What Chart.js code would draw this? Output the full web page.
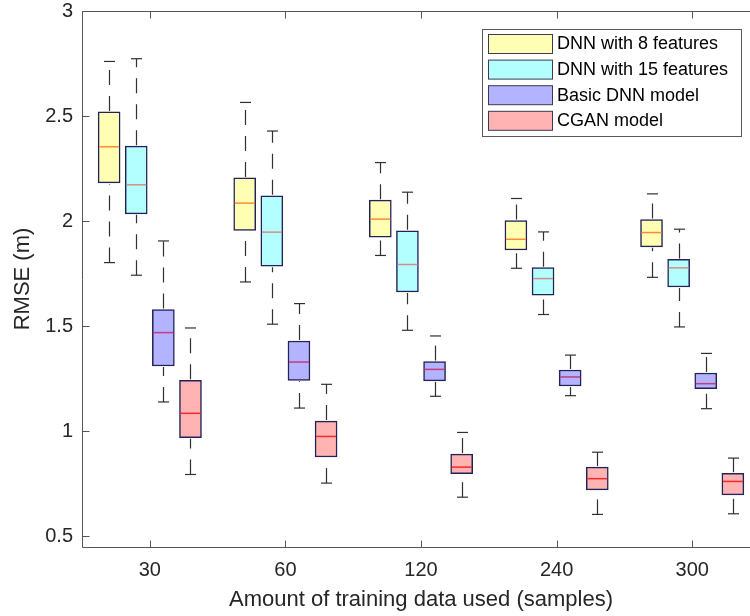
<!DOCTYPE html>
<html><head><meta charset="utf-8">
<script src="https://cdn.jsdelivr.net/npm/chart.js@4/dist/chart.umd.min.js"></script>
<style>
html,body{margin:0;padding:0;overflow:hidden;background:#fff;width:750px;height:616px}
#wrap{position:absolute;left:0;top:0;width:780px;height:616px}
</style>
</head><body><div id="wrap"><canvas id="c" width="780" height="616"></canvas></div>
<script>
const categories = ['30', '60', '120', '240', '300'];
const seriesNames = ['DNN with 8 features', 'DNN with 15 features', 'Basic DNN model', 'CGAN model'];
// each entry: [min, q1, median, q3, max]
const dnn8 = [[1.803, 2.182, 2.354, 2.520, 2.760], [1.711, 1.956, 2.086, 2.206, 2.565], [1.837, 1.924, 2.010, 2.100, 2.279], [1.776, 1.863, 1.914, 2.003, 2.108], [1.733, 1.878, 1.946, 2.008, 2.130]];
const dnn15 = [[1.743, 2.035, 2.173, 2.357, 2.773], [1.510, 1.786, 1.948, 2.121, 2.429], [1.481, 1.663, 1.794, 1.954, 2.138], [1.556, 1.648, 1.727, 1.779, 1.949], [1.497, 1.687, 1.778, 1.818, 1.962]];
const basicDnn = [[1.140, 1.311, 1.470, 1.580, 1.906], [1.111, 1.243, 1.330, 1.430, 1.608], [1.167, 1.240, 1.295, 1.332, 1.454], [1.170, 1.216, 1.259, 1.292, 1.363], [1.108, 1.203, 1.227, 1.278, 1.371]];
const cgan = [[0.795, 0.970, 1.086, 1.243, 1.492], [0.754, 0.878, 0.976, 1.049, 1.224], [0.687, 0.799, 0.830, 0.892, 0.995], [0.605, 0.722, 0.775, 0.830, 0.901], [0.608, 0.698, 0.762, 0.801, 0.873]];
const yTicks = [0.5, 1, 1.5, 2, 2.5, 3];

const allSeries = [dnn8, dnn15, basicDnn, cgan];
const fills = ['#FFFFB3', '#B3FFFF', '#B3B3FF', '#FFB3B3'];
const medianColors = ['#FF8A33', '#D98A8A', '#C23C80', '#F42A2A'];
const edgeColor = '#222258';
const textColor = '#262626';
const axisColor = '#555555';
const FONT = "'Liberation Sans', Arial, Helvetica, sans-serif";

const datasets = allSeries.map((ser, si) => ({
  label: seriesNames[si],
  data: ser.map((st, gi) => ({ x: gi * 5 + si + 1, y: [st[1], st[3]] })),
  backgroundColor: fills[si],
  borderColor: edgeColor,
  borderWidth: 1.5,
  borderSkipped: false,
  barThickness: 22,
  grouped: false
}));

function seg(ctx, x1, y1, x2, y2) { ctx.beginPath(); ctx.moveTo(x1, y1); ctx.lineTo(x2, y2); ctx.stroke(); }

const boxExtras = {
  id: 'boxExtras',
  afterDatasetsDraw(chart) {
    const ctx = chart.ctx, ys = chart.scales.y;
    ctx.save();
    allSeries.forEach((ser, si) => {
      const meta = chart.getDatasetMeta(si);
      ser.forEach((st, gi) => {
        const bar = meta.data[gi];
        const cx = Math.round(bar.x) + 0.5;
        const half = bar.width / 2;
        const pMin = ys.getPixelForValue(st[0]), pQ1 = ys.getPixelForValue(st[1]);
        const pMed = ys.getPixelForValue(st[2]), pQ3 = ys.getPixelForValue(st[3]);
        const pMax = ys.getPixelForValue(st[4]);
        ctx.strokeStyle = '#303030';
        ctx.lineWidth = 1.2;
        ctx.setLineDash([15, 11]);
        seg(ctx, cx, pMin, cx, pQ1 + 1);
        seg(ctx, cx, pQ3 - 1, cx, pMax);
        ctx.setLineDash([]);
        seg(ctx, cx - 5.5, pMin, cx + 5.5, pMin);
        seg(ctx, cx - 5.5, pMax, cx + 5.5, pMax);
        ctx.strokeStyle = medianColors[si];
        ctx.lineWidth = 1.5;
        seg(ctx, bar.x - half + 1, pMed, bar.x + half - 1, pMed);
      });
    });
    ctx.restore();
  },
  afterDraw(chart) {
    const ctx = chart.ctx, a = chart.chartArea, xs = chart.scales.x, ys = chart.scales.y;
    ctx.save();
    ctx.strokeStyle = axisColor;
    ctx.lineWidth = 1;
    const L = Math.round(a.left) + 0.5, B = Math.round(a.bottom) + 0.5, T = Math.round(a.top) + 0.5, R = a.right;
    seg(ctx, L, T, L, B);
    seg(ctx, L, B, R, B);
    seg(ctx, L, T, R, T);
    yTicks.forEach(v => { const p = Math.round(ys.getPixelForValue(v)) + 0.5; seg(ctx, L, p, L + 7, p); });
    xs.ticks.forEach(t => { const p = Math.round(xs.getPixelForValue(t.value)) + 0.5; seg(ctx, p, B, p, B - 7); seg(ctx, p, T, p, T + 7); });
    // legend
    const lx = 482.5, ly = 29.5, lw = 259, lh = 107;
    ctx.fillStyle = '#ffffff';
    ctx.fillRect(lx, ly, lw, lh);
    ctx.strokeStyle = '#5a5a5a';
    ctx.strokeRect(lx, ly, lw, lh);
    ctx.font = '18px ' + FONT;
    ctx.textBaseline = 'middle';
    ctx.textAlign = 'left';
    seriesNames.forEach((n, i) => {
      const ry = 34 + i * 25.6;
      ctx.fillStyle = fills[i];
      ctx.fillRect(488.5, ry + 0.5, 64, 19);
      ctx.strokeStyle = '#3a3a52';
      ctx.lineWidth = 1;
      ctx.strokeRect(488.5, ry + 0.5, 64, 19);
      ctx.fillStyle = '#000000';
      ctx.fillText(n, 557, ry + 10.5);
    });
    ctx.restore();
  }
};

new Chart(document.getElementById('c'), {
  type: 'bar',
  data: { datasets },
  options: {
    responsive: false,
    animation: false,
    devicePixelRatio: 1,
    layout: { padding: { top: 11, right: 20, left: 0, bottom: 0 } },
    plugins: { legend: { display: false }, tooltip: { enabled: false } },
    scales: {
      x: {
        type: 'linear', min: 0, max: 25, offset: false,
        grid: { display: false, drawTicks: false, offset: false },
        border: { display: false },
        afterBuildTicks(s) { s.ticks = categories.map((c, i) => ({ value: i * 5 + 2.5 })); },
        afterFit(s) { s.height = 69; s.paddingLeft = 0; s.paddingRight = 0; },
        ticks: {
          autoSkip: false, maxRotation: 0, padding: 11,
          color: textColor, font: { family: FONT, size: 20 },
          callback: (v, i) => categories[i]
        },
        title: { display: true, text: 'Amount of training data used (samples)', color: textColor, font: { family: FONT, size: 22 }, padding: { top: 0, bottom: 3 } }
      },
      y: {
        min: 0.45, max: 3,
        grid: { display: false, drawTicks: false },
        border: { display: false },
        afterBuildTicks(s) { s.ticks = yTicks.map(v => ({ value: v })); },
        afterFit(s) { s.width = 82; s.paddingTop = 0; s.paddingBottom = 0; },
        ticks: { padding: 9, color: textColor, font: { family: FONT, size: 20 }, callback: v => String(v) },
        title: { display: true, text: 'RMSE (m)', color: textColor, font: { family: FONT, size: 22 }, padding: { top: 10, bottom: 0 } }
      }
    }
  },
  plugins: [boxExtras]
});
</script></body></html>
